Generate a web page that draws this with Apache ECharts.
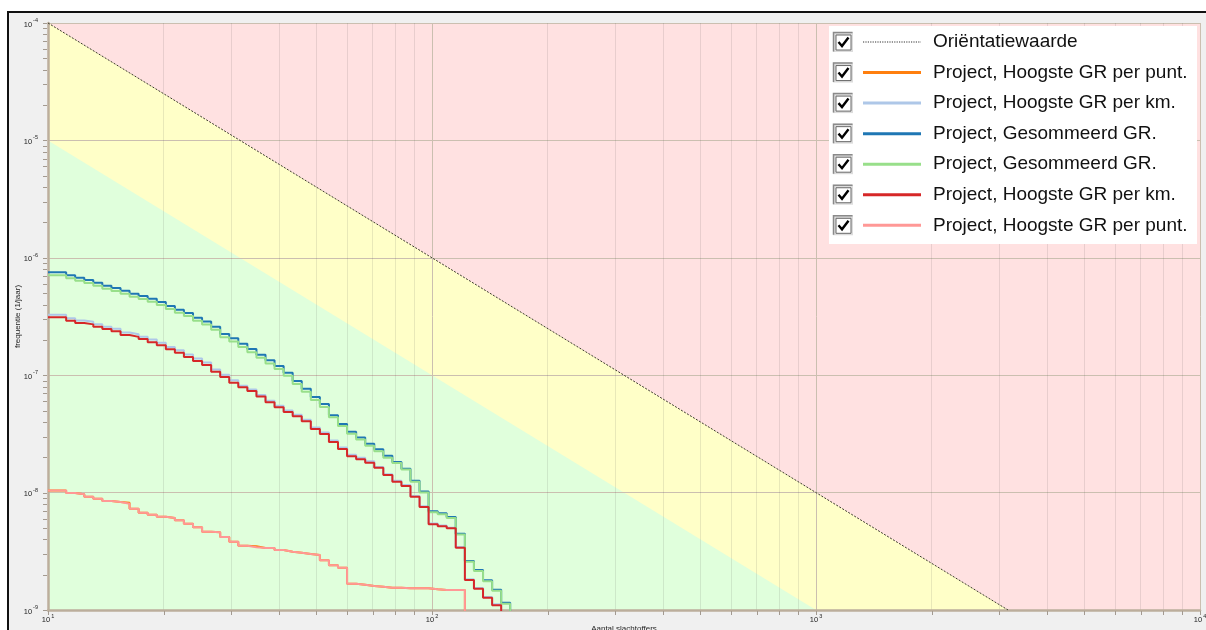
<!DOCTYPE html>
<html>
<head>
<meta charset="utf-8">
<script src="https://cdn.jsdelivr.net/npm/echarts@6/dist/echarts.min.js"></script>
<style>
  html, body { margin: 0; padding: 0; background: #fff; }
  #wrap { position: relative; width: 1206px; height: 630px; overflow: hidden; background: #fff; }
  #panel { position: absolute; left: 7px; top: 11px; width: 1300px; height: 700px; background: #f0f0f0;
           border-left: 2px solid #111; border-top: 2px solid #111; box-sizing: border-box; }
  #chart { position: absolute; left: 0; top: 0; width: 1206px; height: 630px; }
</style>
</head>
<body>
<div id="wrap"><div id="panel"></div><div id="chart"></div></div>
<script>
// N (aantal slachtoffers) where each step of the FN-curves begins
const stepN = [10, 11.15, 11.77, 12.43, 13.12, 13.85, 14.63, 15.45, 16.31, 17.22,
  18.18, 19.20, 20.27, 21.40, 22.59, 23.86, 25.19, 26.60, 28.08, 29.65,
  31.30, 33.05, 34.90, 36.85, 38.90, 41.08, 43.37, 45.79, 48.35, 51.05,
  53.90, 56.91, 60.09, 63.45, 66.99, 70.73, 74.68, 78.85, 83.25, 87.90,
  92.81, 97.99, 103.5, 109.2, 115.3, 121.8, 128.6, 135.8, 143.4, 151.4, 159.8];

// Frequency (1/jaar) of each step
const gesommeerdBlue = [7.52e-7, 7.09e-7, 6.77e-7, 6.47e-7, 6.14e-7, 5.78e-7, 5.53e-7, 5.24e-7, 4.94e-7, 4.73e-7,
  4.48e-7, 4.20e-7, 3.89e-7, 3.61e-7, 3.39e-7, 3.09e-7, 2.86e-7, 2.59e-7, 2.24e-7, 2.06e-7,
  1.85e-7, 1.67e-7, 1.49e-7, 1.34e-7, 1.20e-7, 1.05e-7, 8.92e-8, 7.67e-8, 6.52e-8, 5.68e-8,
  4.55e-8, 3.84e-8, 3.30e-8, 2.94e-8, 2.61e-8, 2.34e-8, 2.06e-8, 1.82e-8, 1.60e-8, 1.26e-8,
  1.02e-8, 6.93e-9, 6.66e-9, 6.20e-9, 4.47e-9, 2.62e-9, 2.19e-9, 1.79e-9, 1.49e-9, 1.15e-9];

const gesommeerdGreen = [7.09e-7, 6.69e-7, 6.38e-7, 6.10e-7, 5.79e-7, 5.45e-7, 5.21e-7, 4.94e-7, 4.66e-7, 4.46e-7,
  4.22e-7, 3.96e-7, 3.67e-7, 3.40e-7, 3.20e-7, 2.91e-7, 2.70e-7, 2.44e-7, 2.11e-7, 1.94e-7,
  1.74e-7, 1.57e-7, 1.41e-7, 1.26e-7, 1.13e-7, 9.9e-8, 8.41e-8, 7.23e-8, 6.15e-8, 5.36e-8,
  4.38e-8, 3.69e-8, 3.17e-8, 2.83e-8, 2.51e-8, 2.25e-8, 1.98e-8, 1.79e-8, 1.57e-8, 1.24e-8,
  1.00e-8, 6.80e-9, 6.53e-9, 6.08e-9, 4.39e-9, 2.57e-9, 2.15e-9, 1.76e-9, 1.46e-9, 1.13e-9];

const perKmLightBlue = [3.27e-7, 3.06e-7, 2.92e-7, 2.85e-7, 2.72e-7, 2.59e-7, 2.49e-7, 2.31e-7, 2.23e-7, 2.13e-7,
  2.01e-7, 1.89e-7, 1.74e-7, 1.63e-7, 1.50e-7, 1.39e-7, 1.28e-7, 1.12e-7, 1.01e-7, 9.06e-8,
  8.12e-8, 7.55e-8, 6.79e-8, 6.06e-8, 5.49e-8, 5.01e-8, 4.60e-8, 4.17e-8, 3.58e-8, 3.25e-8,
  2.78e-8, 2.42e-8, 2.10e-8, 1.98e-8, 1.85e-8, 1.65e-8, 1.43e-8, 1.26e-8, 1.16e-8, 9.37e-9,
  7.65e-9, 5.45e-9, 5.24e-9, 5.03e-9, 3.44e-9, 1.83e-9, 1.54e-9, 1.29e-9, 1.12e-9];

const perKmRed = [3.11e-7, 2.91e-7, 2.78e-7, 2.71e-7, 2.59e-7, 2.47e-7, 2.37e-7, 2.20e-7, 2.12e-7, 2.03e-7,
  1.91e-7, 1.80e-7, 1.66e-7, 1.55e-7, 1.43e-7, 1.32e-7, 1.22e-7, 1.07e-7, 9.65e-8, 8.63e-8,
  7.88e-8, 7.33e-8, 6.59e-8, 5.88e-8, 5.33e-8, 4.86e-8, 4.47e-8, 4.05e-8, 3.48e-8, 3.16e-8,
  2.70e-8, 2.35e-8, 2.04e-8, 1.92e-8, 1.80e-8, 1.63e-8, 1.41e-8, 1.24e-8, 1.14e-8, 9.23e-9,
  7.54e-9, 5.37e-9, 5.16e-9, 4.96e-9, 3.39e-9, 1.80e-9, 1.52e-9, 1.27e-9, 1.10e-9];

const perPuntOrange = [1.04e-8, 9.92e-9, 9.67e-9, 9.23e-9, 8.87e-9, 8.48e-9, 8.31e-9, 8.20e-9, 7.29e-9, 6.74e-9,
  6.48e-9, 6.23e-9, 6.07e-9, 5.80e-9, 5.43e-9, 5.06e-9, 4.64e-9, 4.59e-9, 4.19e-9, 3.82e-9,
  3.53e-9, 3.49e-9, 3.37e-9, 3.37e-9, 3.24e-9, 3.14e-9, 3.08e-9, 3.00e-9, 2.94e-9, 2.65e-9,
  2.40e-9, 2.29e-9, 1.67e-9, 1.64e-9, 1.60e-9, 1.58e-9, 1.55e-9, 1.55e-9, 1.53e-9, 1.53e-9,
  1.53e-9, 1.50e-9, 1.48e-9, 1.48e-9, 1.48e-9];

const perPuntPink = [1.04e-8, 9.92e-9, 9.67e-9, 9.23e-9, 8.87e-9, 8.48e-9, 8.31e-9, 8.04e-9, 7.29e-9, 6.74e-9,
  6.48e-9, 6.23e-9, 6.07e-9, 5.80e-9, 5.43e-9, 5.06e-9, 4.64e-9, 4.59e-9, 4.19e-9, 3.82e-9,
  3.53e-9, 3.42e-9, 3.37e-9, 3.37e-9, 3.24e-9, 3.14e-9, 3.08e-9, 3.00e-9, 2.94e-9, 2.65e-9,
  2.40e-9, 2.29e-9, 1.67e-9, 1.64e-9, 1.60e-9, 1.58e-9, 1.55e-9, 1.55e-9, 1.53e-9, 1.53e-9,
  1.53e-9, 1.50e-9, 1.48e-9, 1.48e-9, 1.48e-9];

// Oriëntatiewaarde (F = 10^-2 / N^2) and the line one factor 10 below it
const orientN = [10, 3162.28];
const orientF = [1e-4, 1e-9];
const lowerN = [10, 1000];
const lowerF = [1e-5, 1e-9];

// Axis decades and the minor multipliers inside each decade
const xTickExp = [1, 2, 3, 4];
const yTickExp = [-9, -8, -7, -6, -5, -4];
const minorMult = [2, 3, 4, 5, 6, 7, 8, 9];

const legendNames = ['Oriëntatiewaarde', 'Project, Hoogste GR per punt.', 'Project, Hoogste GR per km.',
  'Project, Gesommeerd GR.', 'Project, Gesommeerd GR.', 'Project, Hoogste GR per km.', 'Project, Hoogste GR per punt.'];
const seriesColors = ['#3b3b2c', '#ff7f0e', '#aec7e8', '#1f77b4', '#98df8a', '#d62728', '#ff9896'];

const FONT = 'Liberation Sans, Arial, sans-serif';

function pairs(xs, ys) { return xs.map((x, i) => [x, ys[i]]); }

// each value holds from its own N until the next step's N; the curve drops off after the last one
function stepData(vals) {
  const d = vals.map((v, i) => [stepN[i], v]);
  const endN = stepN[vals.length];
  d.push([endN, vals[vals.length - 1]]);
  d.push([endN, 1e-12]);
  return d;
}

function decadeValues(exps) {
  const out = [];
  exps.forEach(e => out.push(Math.pow(10, e)));
  return out;
}
function minorValues(exps) {
  const out = [];
  exps.slice(0, -1).forEach(e => minorMult.forEach(m => out.push(m * Math.pow(10, e))));
  return out;
}
const minorX = minorValues(xTickExp);
const minorY = minorValues(yTickExp);

function powLabel(v) {
  return '{b|10}{s|' + Math.round(Math.log10(v)) + '}';
}
const labelRich = {
  b: { fontSize: 7.5, fontFamily: FONT, color: '#1e1e1e', lineHeight: 11, verticalAlign: 'bottom' },
  s: { fontSize: 5.5, fontFamily: FONT, color: '#1e1e1e', lineHeight: 11, verticalAlign: 'top', padding: [0, 0, 0, 1] }
};

const majorLine = { show: true, lineStyle: { color: '#cbbfb0', width: 1 } };
const axisLine = { show: true, onZero: false, lineStyle: { color: '#bcae9c', width: 2.5 } };

function curve(name, vals, color, z) {
  return {
    name: name, type: 'line', step: 'end', data: stepData(vals),
    symbol: 'none', showSymbol: false, silent: true, z: z,
    lineStyle: { color: color, width: 2 }, emphasis: { disabled: true }
  };
}

const chart = echarts.init(document.getElementById('chart'), null, { renderer: 'canvas' });

const option = {
  animation: false,
  backgroundColor: 'transparent',
  grid: {
    left: 48, right: 6, top: 23, bottom: 20, outerBoundsMode: 'none', containLabel: false,
    show: true, backgroundColor: '#ffe1e1', borderWidth: 0, z: 0
  },
  xAxis: {
    type: 'log', logBase: 10, min: 10, max: 10000, z: 2,
    name: 'Aantal slachtoffers', nameLocation: 'middle', nameGap: 15, nameMoveOverlap: false,
    nameTextStyle: { fontSize: 8, fontFamily: FONT, color: '#1e1e1e', verticalAlign: 'top' },
    axisLine: axisLine, axisTick: { show: false }, splitLine: majorLine,
    axisLabel: { formatter: powLabel, rich: labelRich, margin: 3 }
  },
  yAxis: {
    type: 'log', logBase: 10, min: 1e-9, max: 1e-4, z: 2,
    name: 'frequentie (1/jaar)', nameLocation: 'middle', nameGap: 26, nameMoveOverlap: false,
    nameTextStyle: { fontSize: 8, fontFamily: FONT, color: '#1e1e1e' },
    axisLine: axisLine, axisTick: { show: false }, splitLine: majorLine,
    axisLabel: { formatter: powLabel, rich: labelRich, margin: 10 }
  },
  series: [
    {
      name: 'zone-geel', type: 'line', data: pairs(orientN, orientF), symbol: 'none', silent: true, z: 1,
      lineStyle: { width: 0, opacity: 0 }, areaStyle: { color: '#ffffc8', opacity: 1, origin: 'start' }
    },
    {
      name: 'zone-groen', type: 'line', data: pairs(lowerN, lowerF), symbol: 'none', silent: true, z: 1,
      lineStyle: { width: 0, opacity: 0 }, areaStyle: { color: '#e0ffdc', opacity: 1, origin: 'start' },
      markLine: {
        silent: true, z: 2, animation: false, symbol: ['none', 'none'], label: { show: false },
        emphasis: { disabled: true },
        lineStyle: { color: 'rgba(80,80,80,0.13)', width: 1, type: 'solid' },
        data: minorX.map(v => ({ xAxis: v })).concat(minorY.map(v => ({ yAxis: v })))
      }
    },
    {
      name: legendNames[0], type: 'line', data: pairs(orientN, orientF), symbol: 'none', silent: true, z: 3,
      lineStyle: { color: seriesColors[0], width: 1, type: [2, 1.5] }
    },
    curve(legendNames[1], perPuntOrange, seriesColors[1], 4),
    curve(legendNames[2], perKmLightBlue, seriesColors[2], 4),
    curve(legendNames[3], gesommeerdBlue, seriesColors[3], 4),
    curve(legendNames[4], gesommeerdGreen, seriesColors[4], 4),
    curve(legendNames[5], perKmRed, seriesColors[5], 4),
    curve(legendNames[6], perPuntPink, seriesColors[6], 4)
  ]
};
chart.setOption(option);

// small outside ticks at every decade and minor value, placed through the axes
const ticks = [];
const tickStyle = { stroke: '#a39a90', lineWidth: 1 };
decadeValues(xTickExp).concat(minorX).forEach(v => {
  const p = chart.convertToPixel({ gridIndex: 0 }, [v, 1e-9]);
  const x = Math.round(p[0]) + 0.5;
  ticks.push({ type: 'line', silent: true, z: 5, shape: { x1: x, y1: p[1] + 1, x2: x, y2: p[1] + 5 }, style: tickStyle });
});
decadeValues(yTickExp).concat(minorY).forEach(v => {
  const p = chart.convertToPixel({ gridIndex: 0 }, [10, v]);
  const y = Math.round(p[1]) + 0.5;
  ticks.push({ type: 'line', silent: true, z: 5, shape: { x1: p[0] - 5, y1: y, x2: p[0] - 1, y2: y }, style: tickStyle });
});

// legend box with check boxes, line samples and labels
const legend = [{ type: 'rect', silent: true, z: 10, shape: { x: 829, y: 26, width: 368, height: 218 }, style: { fill: '#ffffff' } }];
legendNames.forEach((name, i) => {
  const c = 42 + i * 30.55;
  legend.push({ type: 'rect', silent: true, z: 11, shape: { x: 833, y: c - 10, width: 20, height: 20 }, style: { fill: '#dcdcdc' } });
  legend.push({ type: 'polyline', silent: true, z: 11, shape: { points: [[833.5, c + 9.5], [833.5, c - 9.5], [852.5, c - 9.5]] }, style: { stroke: '#8a8a8a', lineWidth: 1.5, fill: null } });
  legend.push({ type: 'rect', silent: true, z: 11, shape: { x: 836, y: c - 7, width: 15, height: 15 }, style: { fill: '#ffffff', stroke: '#6a6a6a', lineWidth: 1 } });
  legend.push({ type: 'polyline', silent: true, z: 12, shape: { points: [[838.5, c], [842, c + 4], [848.5, c - 4.5]] }, style: { stroke: '#000', lineWidth: 2.4, fill: null } });
  legend.push({
    type: 'line', silent: true, z: 11, shape: { x1: 863, y1: c, x2: 921, y2: c },
    style: i === 0 ? { stroke: '#333', lineWidth: 1.2, lineDash: [1.2, 1.2] } : { stroke: seriesColors[i], lineWidth: 3 }
  });
  legend.push({
    type: 'text', silent: true, z: 11, x: 933, y: c,
    style: { text: name, fill: '#111', font: '19px ' + FONT, textVerticalAlign: 'middle', textAlign: 'left' }
  });
});

chart.setOption({ graphic: ticks.concat(legend) });
</script>
</body>
</html>
